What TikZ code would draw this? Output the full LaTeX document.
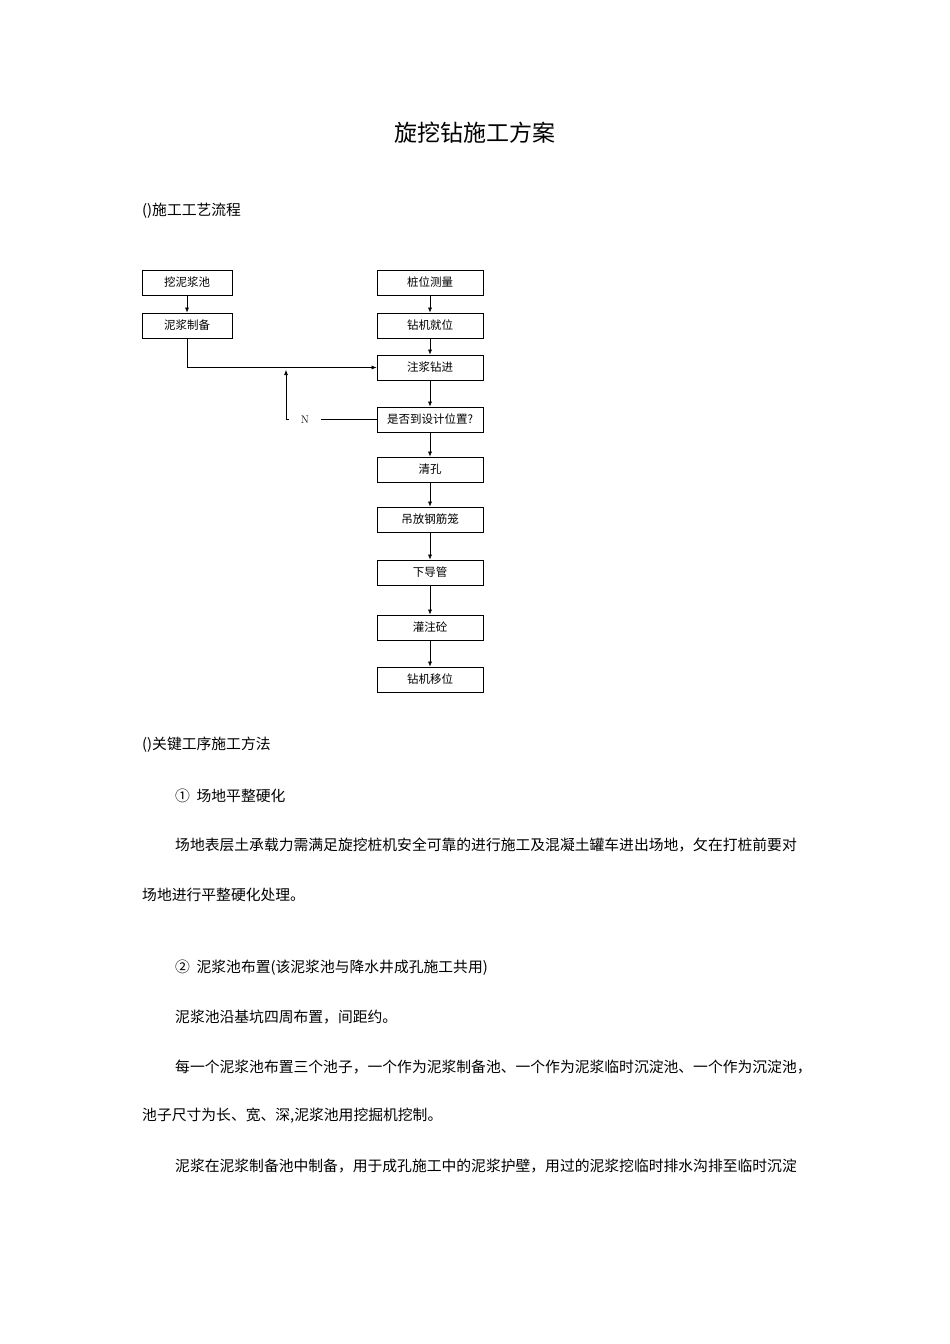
\documentclass[tikz,border=0pt]{standalone}
\usepackage{fontspec}
\newfontfamily\cjk{Noto Sans CJK SC}
\usetikzlibrary{arrows.meta}
\begin{document}
\begin{tikzpicture}[x=1pt,y=-1pt,
  fc/.style={draw,line width=0.8pt,minimum width=106pt,minimum height=25pt,inner sep=0pt,font=\cjk\fontsize{11.5}{12}\selectfont},
  fl/.style={fc,minimum width=90pt},
  ar/.style={-{Latex[length=5pt,width=4pt]},line width=0.6pt},
  tx/.style={anchor=west,inner sep=0pt,font=\cjk\fontsize{14.8}{15}\selectfont}]
\useasboundingbox (0,0) rectangle (950,1344);
\node[font=\cjk\fontsize{23}{24}\selectfont] (title) at (475,133) {旋挖钻施工方案};
\node[tx] (h1) at (142,211) {()施工工艺流程};
\node[fl] (a1) at (187,282.5) {挖泥浆池};
\node[fl] (a2) at (187,325.5) {泥浆制备};
\node[fc] (b1) at (430,282.5) {桩位测量};
\node[fc] (b2) at (430,325.5) {钻机就位};
\node[fc] (b3) at (430,367.5) {注浆钻进};
\node[fc] (b4) at (430,419.5) {是否到设计位置?};
\node[fc] (b5) at (430,469.5) {清孔};
\node[fc] (b6) at (430,519.5) {吊放钢筋笼};
\node[fc] (b7) at (430,572.5) {下导管};
\node[fc] (b8) at (430,627.5) {灌注砼};
\node[fc] (b9) at (430,679.5) {钻机移位};
\draw[ar] (a1) -- (a2);
\draw[ar] (b1) -- (b2);
\draw[ar] (b2) -- (b3);
\draw[ar] (b3) -- (b4);
\draw[ar] (b4) -- (b5);
\draw[ar] (b5) -- (b6);
\draw[ar] (b6) -- (b7);
\draw[ar] (b7) -- (b8);
\draw[ar] (b8) -- (b9);
\draw[ar] (a2.south) |- (b3.west);
\node[font=\fontsize{11}{11}\selectfont,inner xsep=12pt,inner ysep=1pt] (n) at (305,419.5) {\raisebox{-3pt}{N}};
\coordinate (j) at (286,370);
\draw[line width=0.6pt] (b4.west) -- (n.east);
\draw[ar] (n.west) -| (j);
\node[tx] (h2) at (142,745) {()关键工序施工方法};
\node[tx] (p1) at (175,796) {①\ \ 场地平整硬化};
\node[tx] (p2) at (175,845) {场地表层土承载力需满足旋挖桩机安全可靠的进行施工及混凝土罐车进出场地，攵在打桩前要对};
\node[tx] (p3) at (142,895) {场地进行平整硬化处理。};
\node[tx] (p4) at (175,968) {②\ \ 泥浆池布置(该泥浆池与降水井成孔施工共用)};
\node[tx] (p5) at (175,1017) {泥浆池沿基坑四周布置，间距约。};
\node[tx] (p6) at (175,1067) {每一个泥浆池布置三个池子，一个作为泥浆制备池、一个作为泥浆临时沉淀池、一个作为沉淀池，};
\node[tx] (p7) at (142,1116) {池子尺寸为长、宽、深,泥浆池用挖掘机挖制。};
\node[tx] (p8) at (175,1166) {泥浆在泥浆制备池中制备，用于成孔施工中的泥浆护壁，用过的泥浆挖临时排水沟排至临时沉淀};
\end{tikzpicture}
\end{document}
